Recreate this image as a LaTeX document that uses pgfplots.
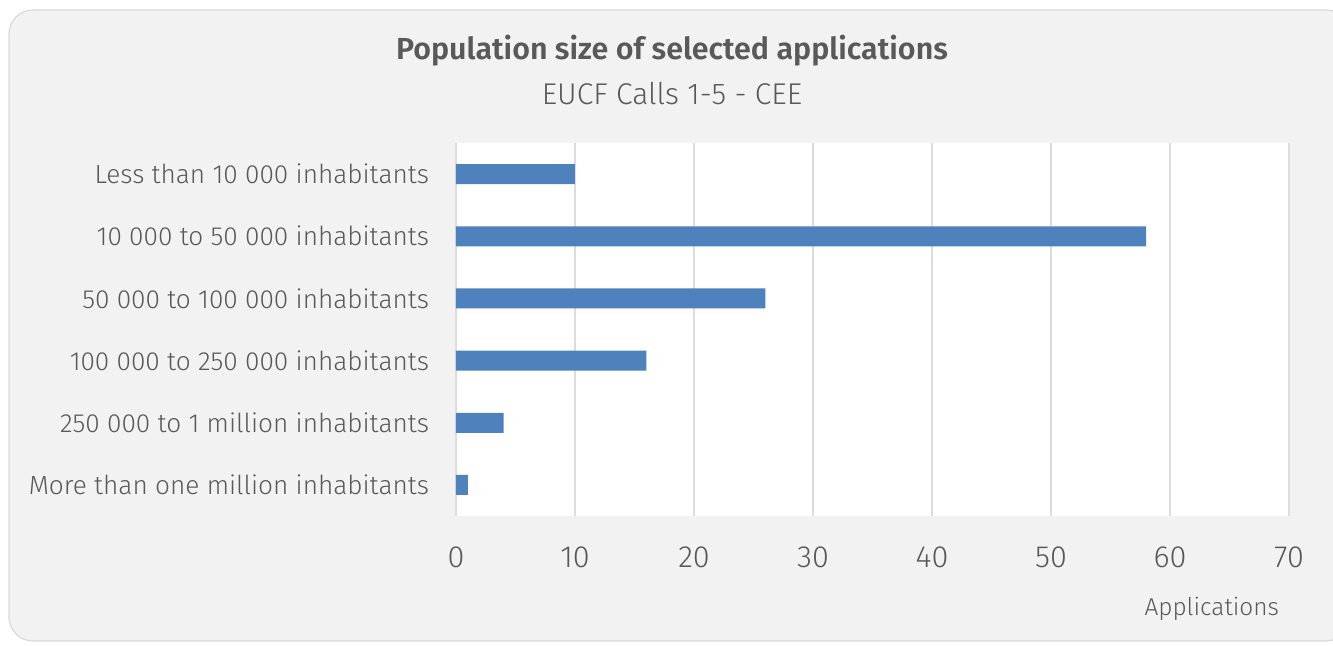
\documentclass[border=0pt]{standalone}
\usepackage{pgfplots}
\pgfplotsset{compat=1.18}
\usepackage{fontspec}
\setmainfont{Fira Sans}[UprightFont=* Light, BoldFont=* SemiBold]
\definecolor{bg}{HTML}{F2F2F2}
\definecolor{framec}{HTML}{D9D9D9}
\definecolor{gridc}{HTML}{DDDDDD}
\definecolor{txt}{HTML}{595959}
\definecolor{barc}{HTML}{4F81BD}
\begin{document}
\begin{tikzpicture}[x=1pt,y=1pt]
\path[use as bounding box] (0,0) rectangle (666.5,323);
\fill[bg,draw=framec,line width=0.6pt,rounded corners=12pt] (4.5,2.5) rectangle (675,318);
\node[txt,font=\fontsize{15.2}{18}\selectfont\bfseries] at (336,297.5) {Population size of selected applications};
\node[txt,font=\fontsize{15}{18}\selectfont] at (336,276) {EUCF Calls 1-5 - CEE};
\begin{axis}[
  at={(228pt,65pt)}, anchor=south west,
  scale only axis, width=416.5pt, height=186.5pt,
  xbar, bar width=10pt,
  xmin=0, xmax=70, ymin=-0.5, ymax=5.5,
  y dir=reverse,
  axis background/.style={fill=white},
  axis line style={draw=none},
  xtick={0,10,...,70},
  ytick={0,1,2,3,4,5},
  yticklabels={Less than 10 000 inhabitants,10 000 to 50 000 inhabitants,50 000 to 100 000 inhabitants,100 000 to 250 000 inhabitants,250 000 to 1 million inhabitants,More than one million inhabitants},
  major tick length=0pt,
  tick style={draw=none},
  xmajorgrids=true, ymajorgrids=false,
  grid style={draw=gridc,line width=1pt},
  ticklabel style={txt},
  yticklabel style={font=\fontsize{13.1}{15}\selectfont,xshift=-10pt},
  /pgf/number format/assume math mode=true,
  xticklabel style={font=\fontsize{15.3}{17}\selectfont,yshift=-12pt},
  xlabel={Applications},
  xlabel style={txt,font=\fontsize{12.2}{14}\selectfont,at={(1,0)},anchor=north east,yshift=-37pt,xshift=-1.5pt},
]
\addplot[fill=barc,draw=none] coordinates {(10,0) (58,1) (26,2) (16,3) (4,4) (1,5)};
\end{axis}
\end{tikzpicture}
\end{document}
